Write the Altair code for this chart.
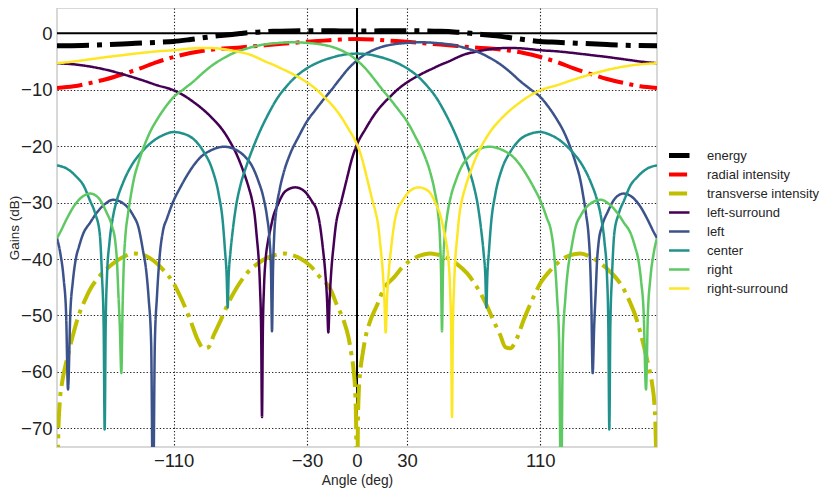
import altair as alt
import pandas as pd

series_names = ["energy", "radial intensity", "transverse intensity", "left-surround",
                "left", "center", "right", "right-surround"]
series_colors = ["#000000", "#ff0000", "#bfbf00", "#440154", "#3b528b", "#21918c", "#5ec962", "#fde725"]
dashdot_thick = [32, 8, 5, 8]
dashdot = [25.6, 6.4, 4, 6.4]
solid = [1, 0]
series_dashes = [dashdot_thick, dashdot, dashdot, solid, solid, solid, solid, solid]

x_ticks = [-110, -30, 0, 30, 110]
y_ticks = [0, -10, -20, -30, -40, -50, -60, -70]

energy_deg = [-180, -165, -150, -135, -120, -110, -100, -95, -90, -85, -80, -75, -70, -65, -60, -50, -40, -30, -20, -10, 0,
              10, 20, 30, 40, 50, 60, 65, 70, 75, 80, 85, 90, 95, 100, 110, 120, 135, 150, 165, 180]
energy_db = [-2.2, -2.15, -2.0, -1.8, -1.6, -1.45, -1.1, -0.9, -0.7, -0.5, -0.35, -0.2, -0.05, 0.1, 0.2, 0.35, 0.42, 0.45, 0.45, 0.42, 0.4,
             0.42, 0.45, 0.45, 0.42, 0.35, 0.2, 0.1, -0.05, -0.2, -0.35, -0.5, -0.7, -0.9, -1.1, -1.45, -1.6, -1.8, -2.0, -2.15, -2.2]

radial_deg = [-180, -170, -160, -150, -140, -130, -120, -110, -100, -90, -80, -70, -60, -50, -40, -30, -20, -10, 0,
              10, 20, 30, 40, 50, 60, 70, 80, 90, 100, 110, 120, 130, 140, 150, 160, 170, 180]
radial_db = [-9.7, -9.4, -8.8, -8.1, -7.2, -6.2, -5.1, -4.2, -3.5, -3.0, -2.7, -2.5, -2.25, -2.0, -1.75, -1.5, -1.3, -1.1, -1.0,
             -1.1, -1.3, -1.5, -1.75, -2.0, -2.25, -2.5, -2.7, -3.0, -3.5, -4.2, -5.1, -6.2, -7.2, -8.1, -8.8, -9.4, -9.7]

transverse_deg = [-180, -179.3, -178.5, -177, -175, -173, -170, -167, -164, -160, -155, -150, -145, -140, -134, -128,
                  -122, -116, -110, -105, -100, -96, -92, -89, -86, -82, -78, -72, -66, -60, -54, -48, -44, -40, -34,
                  -28, -22, -16, -12, -8, -5, -3.5, -2, -1, -0.5, 0,
                  0.5, 1, 2, 3.5, 5, 8, 12, 16, 22, 28, 34, 40, 44, 48, 54, 60, 66, 72, 78, 82, 86, 89, 92, 96, 100,
                  105, 110, 116, 122, 128, 134, 140, 145, 150, 155, 160, 164, 167, 170, 173, 175, 177, 178.5, 179.3, 180]
transverse_db = [-100, -72, -66, -62, -59, -56.5, -53, -50, -47.8, -45.3, -43.2, -41.7, -40.5, -39.6, -39.0, -39.3,
                 -40.3, -42.0, -44.3, -47.3, -50.8, -54, -55.8, -55.6, -53.5, -51, -48.3, -45, -42.5, -40.9, -39.8,
                 -39.2, -39.0, -39.2, -39.9, -41.2, -43.3, -45.3, -48.2, -50.9, -54, -56.6, -59.8, -64, -70, -100,
                 -70, -64, -59.8, -56.6, -54, -50.9, -48.2, -45.3, -43.3, -41.2, -39.9, -39.2, -39.0, -39.2, -39.8,
                 -40.9, -42.5, -45, -48.3, -51, -53.5, -55.6, -55.8, -54, -50.8, -47.3, -44.3, -42.0, -40.3, -39.3,
                 -39.0, -39.6, -40.5, -41.7, -43.2, -45.3, -47.8, -50, -53, -56.5, -59, -62, -66, -72, -100]

left_surround_deg = [-180, -170, -160, -150, -140, -130, -120, -110, -104, -98, -92, -86, -80, -76, -72, -68, -65,
                     -63, -61.5, -60, -59, -58.2, -57.5, -57, -56.5, -55.8, -54.8, -53.5, -52, -50, -48, -43, -37,
                     -31.5, -27, -24, -22.5, -20.5, -19, -18, -17.2, -16.4, -15.4, -14, -12.6, -11, -9.6, -7.5, -5.6,
                     -3, 0,
                     5, 10, 15, 20, 25, 30, 35, 40, 45, 50, 55, 60, 65, 70, 78, 85, 92, 100, 110, 120, 130, 140, 150,
                     160, 170, 180]
left_surround_db = [-5.3, -5.5, -5.9, -6.5, -7.3, -8.2, -9.2, -10.1, -11.0, -12.2, -13.6, -15.3, -17.4, -19.3, -21.6,
                    -24.6, -27.3, -29.5, -32.0, -36.5, -40, -45, -53, -68, -53, -45, -40, -37, -34.8, -32.2, -30.7,
                    -28.0, -27.3, -28.0, -29.8, -31.5, -33.5, -38, -42.5, -47, -53, -47, -42, -37.5, -33.8, -31.5,
                    -30, -27.5, -25.2, -22.2, -19.7,
                    -17.0, -14.6, -12.7, -11.2, -9.8, -8.7, -7.8, -7.0, -6.3, -5.6, -5.0, -4.3, -3.7, -3.35, -2.9,
                    -2.65, -2.6, -2.7, -3.0, -3.2, -3.5, -3.85, -4.2, -4.6, -5.0, -5.3]

left_deg = [-180, -178, -176, -174.5, -173.4, -172, -170.5, -168.4, -167, -164.4, -160, -156.4, -151, -146.4, -140,
            -134.4, -131, -128.4, -126.5, -125, -123.5, -122.4, -121.3, -120, -118.4, -116.4, -114, -110.4, -106,
            -102.4, -98, -94, -87.4, -79.4, -73, -67.4, -63, -59.4, -56, -54, -52.5, -51.6, -51, -50.4, -49.7,
            -48.5, -46.5, -44, -40, -35, -30, -25, -20, -15, -10, -5, 0,
            5, 10, 15, 20, 30, 38, 44, 50, 58, 66, 74, 80, 86, 92, 98, 104, 110, 116, 120, 124, 128, 131, 134, 136,
            137.5, 139, 139.8, 140.6, 141.4, 142.3, 143.2, 144, 145, 147, 150.5, 155, 160, 165, 170, 174, 178, 180]
left_db = [-36.3, -39, -43.5, -50, -63.1, -49.5, -44, -39.5, -38, -35.6, -33.5, -31.9, -30.2, -29.5, -30.2, -32.2,
           -34.5, -38.5, -42, -47, -55, -85, -55, -46.5, -39.5, -35, -32.8, -29.9, -27.3, -25.4, -23.4, -22, -20.7,
           -20.1, -20.6, -21.8, -23.5, -26, -29.3, -32.5, -36.5, -42, -52.8, -42, -36, -31.5, -27.8, -24.7, -21.3,
           -18.3, -15.6, -13.6, -11.7, -9.9, -8.0, -6.2, -4.8,
           -3.7, -2.95, -2.4, -2.05, -1.7, -1.6, -1.65, -1.8, -2.1, -2.7, -3.5, -4.4, -5.5, -6.9, -8.5, -9.9, -11.3,
           -13.5, -15.3, -17.4, -20.2, -22.8, -26, -29.3, -32.2, -36, -40, -48, -60.2, -52, -46, -40.5, -37, -34.2,
           -31.6, -29.2, -28.4, -29.0, -30.7, -32.8, -35.2, -36.3]

center_deg = [-180, -174, -168.4, -164, -160.4, -157, -154.4, -153, -152, -151.4, -150.8, -150, -148.5, -146.4, -144,
              -140.4, -134.4, -130, -124, -116, -110, -104, -97.5, -92, -87, -83, -80.5, -79.2, -78.2, -77.6, -77,
              -76, -74.5, -72.5, -70, -66, -62, -58, -53, -48, -42, -36, -30, -22, -15, -8, 0,
              8, 15, 22, 30, 36, 42, 48, 53, 58, 62, 66, 70, 72.5, 74.5, 76, 77, 77.6, 78.2, 79.2, 80.5, 83, 87, 92,
              97.5, 104, 110, 116, 124, 130, 134.4, 140.4, 144, 146.4, 148.5, 150, 150.8, 151.4, 152, 153, 154.4,
              157, 160.4, 164, 168.4, 174, 180]
center_db = [-23.4, -24, -25.4, -27, -29.5, -32, -35.4, -43, -52, -70.2, -52, -43, -37, -32.5, -29.5, -26.5, -23,
             -21.3, -19.5, -18.0, -17.5, -17.8, -18.9, -21, -24, -28.5, -33.5, -38.5, -43, -48.6, -43, -39, -34.8,
             -30.5, -27.0, -23.2, -20.0, -17.2, -14.2, -11.6, -9.3, -7.5, -6.2, -5.0, -4.3, -3.8, -3.6,
             -3.8, -4.3, -5.0, -6.2, -7.5, -9.3, -11.6, -14.2, -17.2, -20.0, -23.2, -27.0, -30.5, -34.8, -39, -43,
             -48.6, -43, -38.5, -33.5, -28.5, -24, -21, -18.9, -17.8, -17.5, -18.0, -19.5, -21.3, -23, -26.5, -29.5,
             -32.5, -37, -43, -52, -70.2, -52, -43, -35.4, -32, -29.5, -27, -25.4, -24, -23.4]

right_deg = [-180, -178, -174, -170, -165, -160, -155, -150.5, -147, -145, -144, -143.2, -142.3, -141.4, -140.6,
             -139.8, -139, -137.5, -136, -134, -131, -128, -124, -120, -116, -110, -104, -98, -92, -86, -80, -74,
             -66, -58, -50, -44, -38, -30, -20, -15, -10, -5, 0,
             5, 10, 15, 20, 25, 30, 35, 40, 44, 46.5, 48.5, 49.7, 50.4, 51, 51.6, 52.5, 54, 56, 59.4, 63, 67.4, 73,
             79.4, 87.4, 94, 98, 102.4, 106, 110.4, 114, 116.4, 118.4, 120, 121.3, 122.4, 123.5, 125, 126.5, 128.4,
             131, 134.4, 140, 146.4, 151, 156.4, 160, 164.4, 167, 168.4, 170.5, 172, 173.4, 174.5, 176, 178, 180]
right_db = [-36.3, -35.2, -32.8, -30.7, -29.0, -28.4, -29.2, -31.6, -34.2, -37, -40.5, -46, -52, -60.2, -48, -40,
            -36, -32.2, -29.3, -26, -22.8, -20.2, -17.4, -15.3, -13.5, -11.3, -9.9, -8.5, -6.9, -5.5, -4.4, -3.5,
            -2.7, -2.1, -1.8, -1.65, -1.6, -1.7, -2.05, -2.4, -2.95, -3.7, -4.8,
            -6.2, -8.0, -9.9, -11.7, -13.6, -15.6, -18.3, -21.3, -24.7, -27.8, -31.5, -36, -42, -52.8, -42, -36.5,
            -32.5, -29.3, -26, -23.5, -21.8, -20.6, -20.1, -20.7, -22, -23.4, -25.4, -27.3, -29.9, -32.8, -35,
            -39.5, -46.5, -55, -85, -55, -47, -42, -38.5, -34.5, -32.2, -30.2, -29.5, -30.2, -31.9, -33.5, -35.6,
            -38, -39.5, -44, -49.5, -63.1, -50, -43.5, -39, -36.3]

right_surround_deg = [-180, -170, -160, -150, -140, -130, -120, -110, -100, -92, -85, -78, -70, -65, -60, -55, -50,
                      -45, -40, -35, -30, -25, -20, -15, -10, -5, 0,
                      3, 5.6, 7.5, 9.6, 11, 12.6, 14, 15.4, 16.4, 17.2, 18, 19, 20.5, 22.5, 24, 27, 31.5, 37, 43, 48,
                      50, 52, 53.5, 54.8, 55.8, 56.5, 57, 57.5, 58.2, 59, 60, 61.5, 63, 65, 68, 72, 76, 80, 86, 92,
                      98, 104, 110, 120, 130, 140, 150, 160, 170, 180]
right_surround_db = [-5.3, -5.0, -4.6, -4.2, -3.85, -3.5, -3.2, -3.0, -2.7, -2.6, -2.65, -2.9, -3.35, -3.7, -4.3,
                     -5.0, -5.6, -6.3, -7.0, -7.8, -8.7, -9.8, -11.2, -12.7, -14.6, -17.0, -19.7,
                     -22.2, -25.2, -27.5, -30, -31.5, -33.8, -37.5, -42, -47, -53, -47, -42.5, -38, -33.5, -31.5,
                     -29.8, -28.0, -27.3, -28.0, -30.7, -32.2, -34.8, -37, -40, -45, -53, -68, -53, -45, -40, -36.5,
                     -32.0, -29.5, -27.3, -24.6, -21.6, -19.3, -17.4, -15.3, -13.6, -12.2, -11.0, -10.1, -9.2, -8.2,
                     -7.3, -6.5, -5.9, -5.5, -5.3]

all_series = [
    (energy_deg, energy_db),
    (radial_deg, radial_db),
    (transverse_deg, transverse_db),
    (left_surround_deg, left_surround_db),
    (left_deg, left_db),
    (center_deg, center_db),
    (right_deg, right_db),
    (right_surround_deg, right_surround_db),
]

rows = []
for name, (degs, dbs) in zip(series_names, all_series):
    assert len(degs) == len(dbs), name
    for a, g in zip(degs, dbs):
        rows.append({"angle": a, "gain": g, "series": name})
df = pd.DataFrame(rows)

# line widths: energy thick, intensities medium, speakers thin
width_expr = ("{key} === 'energy' ? 5 : ({key} === 'radial intensity' || {key} === 'transverse intensity' ? 4 : 2.5)")

x_scale = alt.Scale(domain=[-180, 180], nice=False, zero=False)
y_scale = alt.Scale(domain=[-73.3, 4.48], nice=False, zero=False)

x_axis = alt.Axis(values=x_ticks, title="Angle (deg)", format="d", ticks=False, domain=False,
                  labelFontSize=18.5, labelPadding=4, labelColor="#222222", labelOverlap=False,
                  grid=True, gridDash=[1.3, 2], gridColor="#222222", gridWidth=1.1,
                  titleFontSize=13.8, titleFontWeight="normal", titleColor="#262626", titleY=26)
y_axis = alt.Axis(values=y_ticks, title="Gains (dB)", format="d", ticks=False, domain=False,
                  labelFontSize=18.5, labelPadding=5, labelColor="#222222", labelOverlap=False,
                  grid=True, gridDash=[1.3, 2], gridColor="#222222", gridWidth=1.1,
                  titleFontSize=13.5, titleFontWeight="normal", titleColor="#262626", titleX=-36)

legend = alt.Legend(title=None, orient="none", legendX=612, legendY=139, symbolType="stroke", symbolSize=784,
                    labelFontSize=13, labelOffset=25, labelColor="#262626", padding=0, symbolOffset=0,
                    rowPadding=2, clipHeight=17, symbolOpacity=1, labelFont="Liberation Sans",
                    symbolStrokeWidth={"expr": width_expr.format(key="datum.value")})

lines = alt.Chart(df).mark_line(interpolate="monotone", clip=True).encode(
    x=alt.X("angle:Q", scale=x_scale, axis=x_axis),
    y=alt.Y("gain:Q", scale=y_scale, axis=y_axis),
    color=alt.Color("series:N", scale=alt.Scale(domain=series_names, range=series_colors), legend=legend),
    strokeDash=alt.StrokeDash("series:N", scale=alt.Scale(domain=series_names, range=series_dashes),
                              legend=None),
    strokeWidth=alt.value({"expr": width_expr.format(key="datum.series")}),
)

hline = alt.Chart(pd.DataFrame({"gain": [0]})).mark_rule(color="black", strokeWidth=2).encode(
    y=alt.Y("gain:Q", scale=y_scale, axis=y_axis))
vline = alt.Chart(pd.DataFrame({"angle": [0]})).mark_rule(color="black", strokeWidth=2).encode(
    x=alt.X("angle:Q", scale=x_scale, axis=x_axis))

chart = alt.layer(hline, vline, lines).properties(
    width=600, height=439,
    autosize=alt.AutoSizeParams(type="none"),
    padding={"left": 49, "top": 0, "right": 165, "bottom": 45},
    background="white",
).configure(font="Liberation Sans").configure_view(stroke="#cccccc", strokeWidth=1.5)

chart.save("out.html", embed_options={"renderer": "svg", "actions": False})
